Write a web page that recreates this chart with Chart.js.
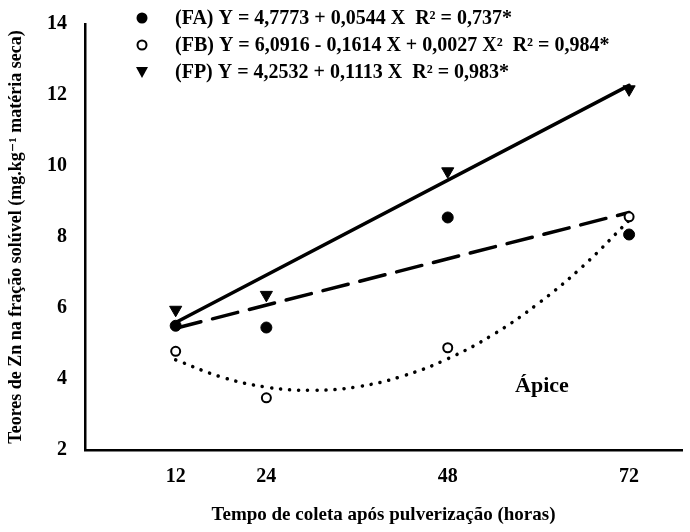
<!DOCTYPE html>
<html>
<head>
<meta charset="utf-8">
<script src="https://cdn.jsdelivr.net/npm/chart.js@4.4.1/dist/chart.umd.min.js"></script>
<style>
html,body{margin:0;padding:0;background:#fff;}
#wrap{width:690px;height:532px;position:relative;}
</style>
</head>
<body>
<div id="wrap"><canvas id="c" width="690" height="532"></canvas></div>
<script>
// ---- data ----
const hours = [12, 24, 48, 72];
const xTickLabels = ['12', '24', '48', '72'];
const yTickValues = [2, 4, 6, 8, 10, 12, 14];
const faValues = [5.5, 5.45, 8.55, 8.07];
const fbValues = [4.78, 3.47, 4.88, 8.57];
const fpValues = [5.95, 6.37, 9.85, 12.16];
const faTrendHours = [12, 72];
const faTrendValues = [5.43, 8.69];
const fpTrendHours = [12, 72];
const fpTrendValues = [5.59, 12.27];
const fbCurveHours = [12, 18, 24, 30, 36, 42, 48, 54, 60, 66, 72];
const fbCurveValues = [4.54, 4.06, 3.77, 3.68, 3.78, 4.08, 4.57, 5.25, 6.13, 7.2, 8.47];
const legendLabels = [
  '(FA) Y = 4,7773 + 0,0544 X  R\u00B2 = 0,737*',
  '(FB) Y = 6,0916 - 0,1614 X + 0,0027 X\u00B2  R\u00B2 = 0,984*',
  '(FP) Y = 4,2532 + 0,1113 X  R\u00B2 = 0,983*'
];
const annotationText = '\u00C1pice';
const xTitle = 'Tempo de coleta após pulverização (horas)';
const yTitle = 'Teores de Zn na fração solúvel (mg.kg\u207B\u00B9 matéria seca)';

const pts = (xs, ys) => xs.map((x, i) => ({x: x, y: ys[i]}));
const SERIF = '"Liberation Serif", "DejaVu Serif", serif';

const overlay = {
  id: 'overlay',
  afterDraw(chart) {
    const ctx = chart.ctx;
    ctx.save();
    ctx.fillStyle = '#000';
    ctx.strokeStyle = '#000';
    // legend
    const rowsY = [18, 45, 72];
    const mx = 142;
    ctx.font = 'bold 20px ' + SERIF;
    ctx.textBaseline = 'middle';
    ctx.textAlign = 'left';
    rowsY.forEach((y, i) => {
      if (i === 0) { ctx.beginPath(); ctx.arc(mx, y, 5.5, 0, Math.PI * 2); ctx.fill(); }
      if (i === 1) { ctx.beginPath(); ctx.lineWidth = 2; ctx.arc(mx, y, 4.5, 0, Math.PI * 2); ctx.stroke(); }
      if (i === 2) { ctx.beginPath(); ctx.moveTo(mx - 6, y - 5); ctx.lineTo(mx + 6, y - 5); ctx.lineTo(mx, y + 6); ctx.closePath(); ctx.fill(); }
      ctx.fillText(legendLabels[i], 175, y + 1);
    });
    // annotation
    ctx.font = 'bold 22px ' + SERIF;
    ctx.textAlign = 'center';
    ctx.fillText(annotationText, 542, 386);
    ctx.restore();
  }
};

new Chart(document.getElementById('c'), {
  type: 'scatter',
  data: {
    datasets: [
      { label: 'FA', data: pts(hours, faValues), pointStyle: 'circle', pointRadius: 5.5,
        backgroundColor: '#000', borderColor: '#000', borderWidth: 1, showLine: false, order: 1 },
      { label: 'FB', data: pts(hours, fbValues), pointStyle: 'circle', pointRadius: 4.5,
        backgroundColor: '#fff', borderColor: '#000', borderWidth: 2, showLine: false, order: 1 },
      { label: 'FP', data: pts(hours, fpValues), pointStyle: 'triangle', rotation: 180, pointRadius: 7,
        backgroundColor: '#000', borderColor: '#000', borderWidth: 1, showLine: false, order: 1 },
      { label: 'FA trend', data: pts(faTrendHours, faTrendValues), showLine: true, pointRadius: 0,
        borderColor: '#000', borderWidth: 3.5, borderDash: [26, 12], borderCapStyle: 'round', order: 2 },
      { label: 'FB trend', data: pts(fbCurveHours, fbCurveValues), showLine: true, pointRadius: 0,
        borderColor: '#000', borderWidth: 3.5, borderDash: [0.1, 9], borderCapStyle: 'round',
        tension: 0.4, order: 2 },
      { label: 'FP trend', data: pts(fpTrendHours, fpTrendValues), showLine: true, pointRadius: 0,
        borderColor: '#000', borderWidth: 3.5, borderCapStyle: 'round', order: 2 }
    ]
  },
  options: {
    responsive: false,
    animation: false,
    layout: { padding: { top: 19, right: 6, left: 0, bottom: 0 } },
    plugins: { legend: { display: false }, tooltip: { enabled: false } },
    scales: {
      x: {
        type: 'linear', min: 0, max: 79,
        afterBuildTicks: (s) => { s.ticks = hours.map(v => ({ value: v })); },
        afterFit: (s) => { s.height = 82; },
        grid: { display: false, drawTicks: true, tickLength: 6, tickColor: '#000', tickWidth: 2 },
        border: { display: true, color: '#000', width: 2.5 },
        ticks: { color: '#000', padding: 9, maxRotation: 0, autoSkip: false,
          font: { family: SERIF, size: 20, weight: 'bold' },
          callback: (v) => xTickLabels[hours.indexOf(v)] },
        title: { display: true, text: xTitle, color: '#000', padding: { top: 0, bottom: 6 },
          font: { family: SERIF, size: 19, weight: 'bold' } }
      },
      y: {
        type: 'linear', min: 2, max: 14,
        afterBuildTicks: (s) => { s.ticks = yTickValues.map(v => ({ value: v })); },
        afterFit: (s) => { s.width = 85; },
        grid: { display: false, drawTicks: true, tickLength: 6, tickColor: '#000', tickWidth: 2 },
        border: { display: true, color: '#000', width: 2.5 },
        ticks: { color: '#000', padding: 12,
          font: { family: SERIF, size: 20, weight: 'bold' } },
        title: { display: true, text: yTitle, color: '#000', padding: { top: 6, bottom: 0 },
          font: { family: SERIF, size: 18, weight: 'bold' } }
      }
    }
  },
  plugins: [overlay]
});
</script>
</body>
</html>
